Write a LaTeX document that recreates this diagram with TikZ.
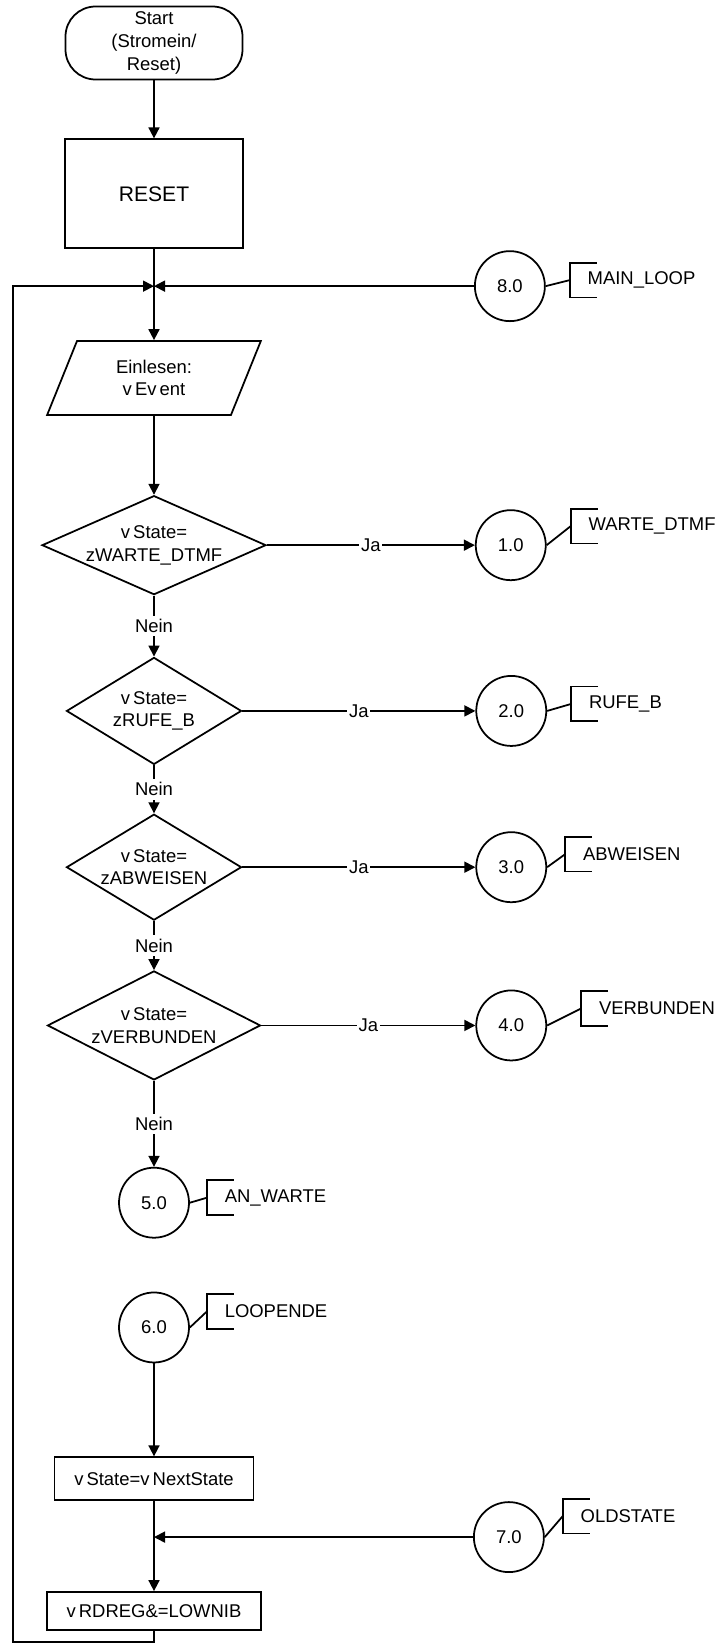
\documentclass[tikz,border=0pt]{standalone}
\usepackage{fontspec}
\setmainfont{Liberation Sans}
\usetikzlibrary{arrows.meta, positioning, shapes.geometric}

\begin{document}
\begin{tikzpicture}[
    font       = \fontsize{10.5}{13}\selectfont,
    line width = 1pt,
    base/.style = {
        draw=black, line width=1pt,
        align     = center,
        inner sep = 0pt
    },
    terminal/.style = { base, rectangle, rounded corners=0.6cm,
                        minimum width=3.54cm, minimum height=1.46cm },
    process/.style  = { base, rectangle },
    io/.style       = { base, trapezium, trapezium left angle=68,
                        trapezium right angle=112,
                        minimum width=4.28cm, minimum height=1.42cm },
    decision/.style = { base, diamond },
    conn/.style     = { base, circle, minimum size=1.4cm },
    annot/.style    = { minimum height=0.66cm, inner xsep=0.34cm, inner ysep=0pt },
    dtext/.style    = { align=center, inner sep=0pt },
    lbl/.style      = { fill=white, inner xsep=1pt, inner ysep=2pt },
    arr/.style      = { -{Triangle[length=0.22cm, width=0.22cm]} },
]

\useasboundingbox (0,0) rectangle (14.5,-32.88);

%% ── Main column ──────────────────────────────────────────────────────────
\node[terminal] (start) at (3.08,-0.86) {Start\\(Stromein/\\Reset)};

\node[process, below=1.16cm of start,
      minimum width=3.56cm, minimum height=2.18cm,
      font=\fontsize{12}{14}\selectfont] (reset) {RESET};

\coordinate[below=0.74cm of reset] (join1);

\node[io, below=1.08cm of join1] (input) {Einlesen:\\v\,Ev\,ent};

\node[decision, below=1.58cm of input,
      minimum width=4.48cm, minimum height=1.98cm] (d1) {};
\node[decision, below=1.22cm of d1,
      minimum width=3.5cm, minimum height=2.14cm] (d2) {};
\node[decision, below=0.96cm of d2,
      minimum width=3.5cm, minimum height=2.12cm] (d3) {};
\node[decision, below=0.98cm of d3,
      minimum width=4.26cm, minimum height=2.18cm] (d4) {};

\node[dtext] (d1t) at (d1) {v\,State=\\zWARTE\_DTMF};
\node[dtext] (d2t) at (d2) {v\,State=\\zRUFE\_B};
\node[dtext] (d3t) at (d3) {v\,State=\\zABWEISEN};
\node[dtext] (d4t) at (d4) {v\,State=\\zVERBUNDEN};

\node[conn, below=1.72cm of d4] (c5) {5.0};
\node[conn, below=1.06cm of c5] (c6) {6.0};

\node[process, below=1.86cm of c6,
      minimum width=3.98cm, minimum height=0.86cm] (upd) {v\,State=v\,NextState};

\coordinate[below=0.72cm of upd] (join2);

\node[process, below=1.08cm of join2,
      minimum width=4.28cm, minimum height=0.76cm] (mask) {v\,RDREG\&=LOWNIB};

%% ── Connectors on the right ──────────────────────────────────────────────
\node[conn, right=6.4cm of join1]  (c8) {8.0};
\node[conn, right=4.16cm of d1]    (c1) {1.0};
\node[conn, right=4.66cm of d2]    (c2) {2.0};
\node[conn, right=4.66cm of d3]    (c3) {3.0};
\node[conn, right=4.28cm of d4]    (c4) {4.0};
\node[conn, right=6.38cm of join2] (c7) {7.0};

%% ── Annotations ──────────────────────────────────────────────────────────
\node[annot, right=0.48cm of c1, yshift=0.38cm] (a1) {WARTE\_DTMF};
\node[annot, right=0.48cm of c2, yshift=0.14cm] (a2) {RUFE\_B};
\node[annot, right=0.36cm of c3, yshift=0.26cm] (a3) {ABWEISEN};
\node[annot, right=0.68cm of c4, yshift=0.34cm] (a4) {VERBUNDEN};
\node[annot, right=0.34cm of c5, yshift=0.10cm] (a5) {AN\_WARTE};
\node[annot, right=0.34cm of c6, yshift=0.32cm] (a6) {LOOPENDE};
\node[annot, right=0.36cm of c7, yshift=0.42cm] (a7) {OLDSTATE};
\node[annot, right=0.48cm of c8, yshift=0.12cm] (a8) {MAIN\_LOOP};

\foreach \i in {1,...,8} {
    \draw (c\i.east) -- (a\i.west);
    \draw ([xshift=0.54cm]a\i.north west) -- (a\i.north west)
        -- (a\i.south west) -- ([xshift=0.54cm]a\i.south west);
}

%% ── Arrows ───────────────────────────────────────────────────────────────
\draw[arr] (start) -- (reset);
\draw      (reset) -- (join1);
\draw[arr] (join1) -- (input);
\draw[arr] (input) -- (d1);

\draw[arr] (d1) -- node[lbl] {Nein} (d2);
\draw[arr] (d2) -- node[lbl] {Nein} (d3);
\draw[arr] (d3) -- node[lbl] {Nein} (d4);
\draw[arr] (d4) -- node[lbl] {Nein} (c5);

\foreach \i in {1,...,4}
    \draw[arr] (d\i) -- node[lbl] {Ja} (c\i);

\draw[arr] (c6)    -- (upd);
\draw      (upd)   -- (join2);
\draw[arr] (join2) -- (mask);
\draw[arr] (c7)    -- (join2);
\draw[arr] (c8)    -- (join1);

%% ── Loop back to MAIN_LOOP ───────────────────────────────────────────────
\coordinate (loopleft) at (0.26,-32.84);
\coordinate (loopbot)  at (mask.south |- loopleft);
\draw[arr] (mask) -- (loopbot) -- (loopleft) |- (join1);

\end{tikzpicture}
\end{document}
